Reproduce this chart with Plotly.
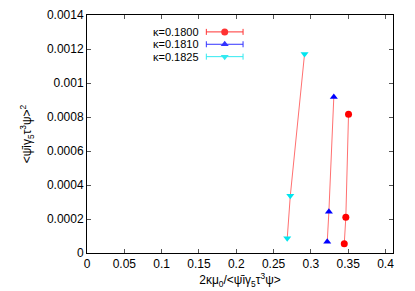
import plotly.graph_objects as go

# ---- data ----
kappa_labels = ["κ=0.1800", "κ=0.1810", "κ=0.1825"]
x_k1800 = [0.3447, 0.3468, 0.3504]
y_k1800 = [0.0000547, 0.000210, 0.000816]
x_k1810 = [0.3219, 0.3241, 0.3307]
y_k1810 = [0.0000665, 0.000243, 0.000918]
x_k1825 = [0.2683, 0.2724, 0.2915]
y_k1825 = [0.0000865, 0.000337, 0.001171]

x_ticks = [0, 0.05, 0.1, 0.15, 0.2, 0.25, 0.3, 0.35, 0.4]
x_ticktext = ["0", "0.05", "0.1", "0.15", "0.2", "0.25", "0.3", "0.35", "0.4"]
y_ticks = [0, 0.0002, 0.0004, 0.0006, 0.0008, 0.001, 0.0012, 0.0014]
y_ticktext = ["0", "0.0002", "0.0004", "0.0006", "0.0008", "0.001", "0.0012", "0.0014"]

series = [
    (kappa_labels[0], x_k1800, y_k1800, "#ff0000", "circle"),
    (kappa_labels[1], x_k1810, y_k1810, "#0000ff", "triangle-up"),
    (kappa_labels[2], x_k1825, y_k1825, "#00e5ee", "triangle-down"),
]

FONT = "Liberation Sans, Arial, sans-serif"
fig = go.Figure()

# fit lines
for name, xs, ys, col, sym in series:
    fig.add_trace(go.Scatter(x=xs, y=ys, mode="lines",
                             line=dict(color="#ff7070", width=1),
                             showlegend=False, hoverinfo="skip"))
# points
for name, xs, ys, col, sym in series:
    fig.add_trace(go.Scatter(x=xs, y=ys, mode="markers", name=name,
                             marker=dict(color=col, symbol=sym, size=7),
                             showlegend=False))

# gnuplot-style legend drawn on an overlay axis (0..1 inside plot area)
leg_rows = [0.929, 0.877, 0.825]
for (name, xs, ys, col, sym), ry in zip(series, leg_rows):
    fig.add_trace(go.Scatter(x=[0.45], y=[ry], mode="markers",
                             xaxis="x2", yaxis="y2",
                             marker=dict(color=col, symbol=sym, size=7),
                             error_x=dict(type="constant", value=0.06, color=col,
                                          thickness=1, width=3),
                             showlegend=False, hoverinfo="skip", opacity=0.8))
    fig.add_annotation(x=0.368, y=ry, xref="x2", yref="y2", text=name,
                       showarrow=False, xanchor="right", yanchor="middle",
                       borderpad=0,
                       font=dict(family=FONT, size=11, color="black"))

axis_common = dict(showline=True, linecolor="black", linewidth=1, mirror="ticks",
                   ticks="inside", ticklen=4, tickcolor="#555555", showgrid=False,
                   zeroline=False, automargin=False,
                   tickfont=dict(family=FONT, size=12, color="black"))

fig.update_layout(
    width=415, height=291,
    margin=dict(l=87, r=22, t=15, b=38),
    plot_bgcolor="white", paper_bgcolor="white",
    font=dict(family=FONT, size=12, color="black"),
    xaxis=dict(range=[0, 0.41], tickvals=x_ticks, ticktext=x_ticktext,
               title=dict(text="2κμ<sub>0</sub>/&lt;ψ̄iγ<sub>5</sub>τ<sup>3</sup>ψ&gt;",
                          font=dict(family=FONT, size=12), standoff=4),
               **axis_common),
    yaxis=dict(range=[0, 0.0014], tickvals=y_ticks, ticktext=y_ticktext,
               title=dict(text="&lt;ψ̄iγ<sub>5</sub>τ<sup>3</sup>ψ&gt;<sup>2</sup>",
                          font=dict(family=FONT, size=12), standoff=12),
               **axis_common),
    xaxis2=dict(overlaying="x", range=[0, 1], visible=False),
    yaxis2=dict(overlaying="y", range=[0, 1], visible=False),
)

fig.write_html("out.html", config={"displayModeBar": False},
               post_script="document.body.style.margin='0';document.body.style.padding='0';")
